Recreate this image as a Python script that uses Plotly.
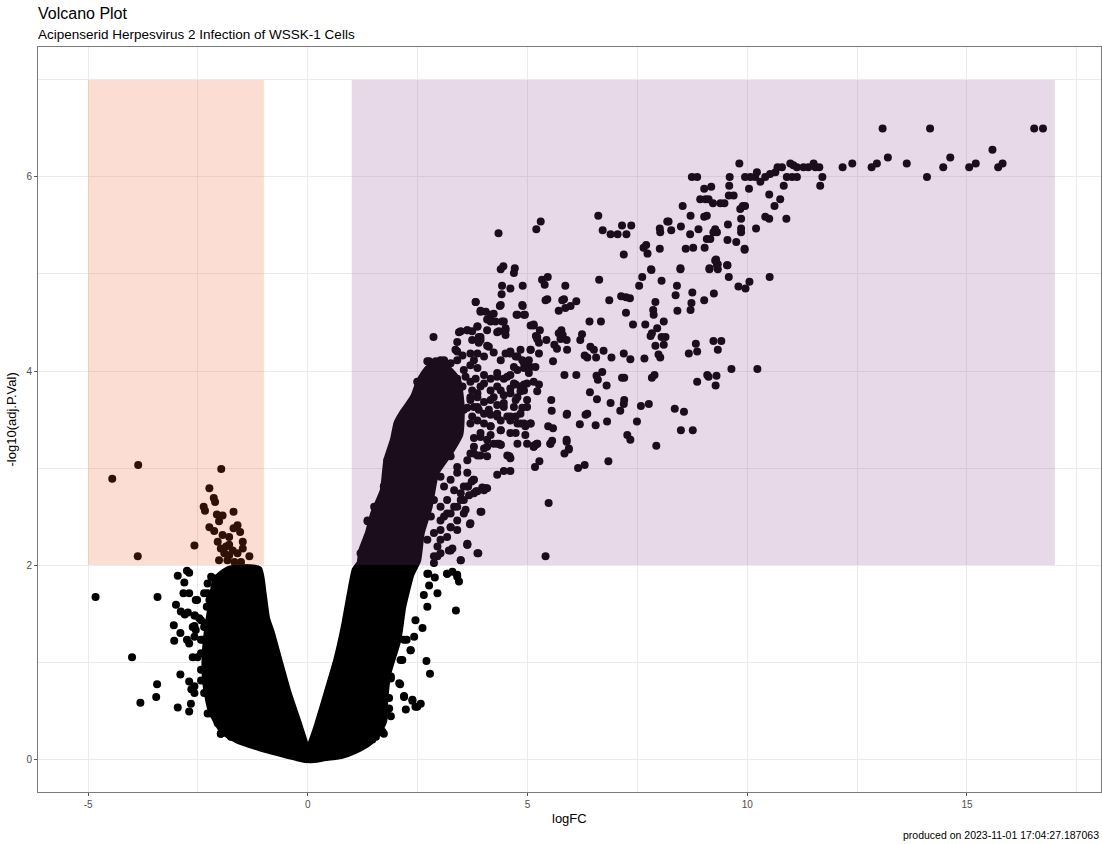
import plotly.graph_objects as go

# ---- dense, heavily over-plotted clusters (outline of the overlapping points) ----
left_core_x = [0.0, -0.20, -0.46, -0.67, -0.84, -0.95, -1.03, -1.12, -1.40, -1.80, -2.08, -2.18,
               -2.28, -2.33, -2.30, -2.20, -2.05, -1.90, -1.60, -1.15, -0.60, -0.25, 0.0]
left_core_y = [0.0, 0.33, 0.68, 1.02, 1.30, 1.45, 1.71, 1.95, 1.97, 1.95, 1.85, 1.60,
               1.30, 1.00, 0.75, 0.52, 0.38, 0.28, 0.20, 0.13, 0.06, 0.02, 0.0]

right_core_x = [0.0, 0.22, 0.45, 0.67, 0.84, 0.98, 1.09, 1.20, 1.24, 1.39, 1.51, 1.73, 1.81, 1.96,
                2.04, 2.19, 2.42, 2.55, 2.76, 3.10, 3.40, 3.48, 3.45, 3.20, 2.90, 2.75, 2.57,
                2.49, 2.34, 2.15, 2.04, 1.81, 1.73, 1.72, 1.60, 1.40, 1.10, 0.75, 0.40, 0.0]
right_core_y = [0.0, 0.33, 0.68, 1.02, 1.36, 1.71, 1.95, 2.02, 2.15, 2.33, 2.53, 2.77, 3.08, 3.29,
                3.46, 3.58, 3.73, 3.89, 4.03, 4.05, 3.90, 3.62, 3.35, 3.15, 2.95, 2.60, 2.33,
                2.05, 1.91, 1.57, 1.23, 0.88, 0.54, 0.40, 0.28, 0.18, 0.10, 0.04, 0.02, 0.0]

# ---- up-regulated genes (logFC > 1, adj.P < 0.01) ----
up_x = [13.08, 14.16, 16.53, 16.73, 15.58, 13.20, 14.62, 12.39, 12.17, 12.83, 12.95, 13.63, 14.46, 14.09,
        15.05, 15.20, 15.71, 15.81,
        9.82, 10.98, 10.69, 10.79, 11.13, 11.28, 11.39, 11.51, 11.55, 11.64, 11.05, 10.64, 10.52, 10.41,
        10.30, 9.95, 10.07, 10.18, 10.22, 10.90, 11.02, 11.13, 11.71, 11.66, 10.83, 10.04, 10.50, 10.75,
        10.62, 10.89, 10.41, 10.50, 10.20, 9.86, 9.86, 9.86, 9.94, 9.75, 9.55, 9.56, 9.90, 9.95, 9.84,
        9.60, 9.59, 9.58, 9.69, 8.74, 8.86, 9.02, 9.18, 8.93, 9.05, 9.12, 9.22, 9.39, 9.48, 8.53, 8.71,
        9.02, 9.08, 8.18, 8.21, 8.01, 8.02, 8.27, 8.49, 8.89, 8.70, 9.23, 9.31, 9.27, 9.08, 9.16, 9.03,
        8.60, 8.77, 8.01, 7.64, 7.70, 7.73, 7.19, 6.61, 6.71, 6.89, 7.05, 7.25, 7.15, 7.36, 9.27, 9.31,
        9.54, 9.14, 8.48, 7.81,
        4.34, 5.30, 5.20,
        7.82, 7.61, 7.54, 8.05, 8.48, 8.40, 8.37, 8.41, 8.75, 8.73, 8.71, 9.14, 9.29, 9.33, 9.33, 9.55,
        9.58, 9.80, 9.96, 10.05, 10.51, 9.94, 9.02, 9.24, 8.83, 8.86, 8.67, 9.23, 9.41, 9.33, 9.64, 10.23,
        9.09, 9.12, 9.30, 9.28, 8.86, 8.35, 8.56, 8.49, 8.76, 7.93, 7.27, 7.34, 7.49, 7.58, 7.76, 7.11,
        7.20, 7.19, 6.89, 6.81, 6.55, 6.19, 5.89, 5.90, 6.32, 6.36, 6.58, 6.42, 6.80, 5.89, 5.94, 5.56,
        5.52, 5.18, 5.14, 5.47, 5.58, 5.55, 5.54, 6.60, 6.70, 6.57, 7.15, 7.20, 7.83, 7.89, 6.11, 5.84,
        7.19, 7.34, 7.66, 6.91, 6.73, 7.40, 7.68, 8.10, 7.95, 7.80, 7.83, 8.05, 8.14, 7.91, 8.10, 7.98,
        8.02, 7.87, 7.86, 7.91, 7.24, 6.86, 7.13, 7.24, 7.33, 6.63, 6.41, 6.67, 6.30, 6.36, 6.56, 6.43,
        6.51, 6.24, 6.20, 6.11, 5.98, 5.86, 5.71, 5.79, 5.83, 5.41, 5.45, 5.33, 5.46, 5.39, 5.86, 5.89,
        5.75, 5.90, 5.67, 5.61, 5.58, 5.43, 5.22, 5.26, 5.77, 5.71, 5.80, 5.07, 5.14, 5.28, 5.19, 4.89,
        4.61, 4.42, 4.39, 4.45, 4.71, 4.69, 4.41, 4.37, 4.89, 4.75, 4.94, 3.93, 3.82, 2.86,
        6.84, 6.15, 6.30, 5.17, 5.27, 5.14, 5.22, 5.48, 5.41, 5.84, 5.94, 5.89, 5.52, 4.59, 4.46, 4.61,
        4.31, 3.95, 3.69, 3.88, 3.63, 3.48, 3.29, 3.21, 4.08, 3.97, 3.83, 3.77, 3.73, 3.65, 4.35, 4.39,
        3.82, 3.93, 4.39, 4.77, 4.92, 4.88, 2.04, 2.11, 1.96, 1.85, 1.73, 1.55, 1.36, 1.28]
up_y = [6.50, 6.50, 6.50, 6.50, 6.28, 6.20, 6.20, 6.14, 6.10, 6.10, 6.14, 6.14, 6.10, 6.00,
        6.10, 6.14, 6.10, 6.14,
        6.14, 6.14, 6.10, 6.10, 6.10, 6.10, 6.10, 6.14, 6.10, 6.10, 6.12, 6.05, 6.03, 6.00,
        5.95, 6.00, 6.00, 6.00, 6.05, 6.00, 6.00, 6.00, 6.00, 5.91, 5.91, 5.88, 5.82, 5.77,
        5.70, 5.57, 5.59, 5.57, 5.47, 5.57, 5.47, 5.43, 5.26, 5.33, 5.35, 5.51, 5.70, 5.70, 5.67,
        6.00, 5.91, 5.81, 5.81, 6.00, 6.00, 5.88, 5.90, 5.77, 5.77, 5.77, 5.73, 5.73, 5.73, 5.70, 5.60,
        5.59, 5.60, 5.54, 5.54, 5.47, 5.43, 5.45, 5.49, 5.46, 5.41, 5.43, 5.43, 5.46, 5.36, 5.36, 5.27,
        5.26, 5.27, 5.26, 5.27, 5.30, 5.21, 5.20, 5.60, 5.45, 5.41, 5.41, 5.41, 5.50, 5.50, 5.14, 5.09,
        5.09, 5.06, 5.06, 5.05,
        5.42, 5.54, 5.46,
        5.04, 4.97, 4.88, 4.93, 5.05, 4.88, 4.78, 4.62, 4.81, 4.70, 4.63, 5.05, 5.15, 5.10, 5.05, 5.09,
        4.97, 4.87, 4.85, 4.92, 4.97, 5.25, 4.73, 4.80, 4.28, 4.20, 4.18, 4.31, 4.31, 4.22, 4.02, 4.02,
        3.96, 3.94, 3.95, 3.85, 3.89, 3.61, 3.58, 3.39, 3.39, 3.23, 3.34, 3.29, 3.48, 3.64, 3.66, 3.59,
        3.70, 3.66, 3.67, 3.48, 3.44, 3.45, 3.55, 3.56, 3.55, 3.56, 3.71, 3.78, 3.85, 3.29, 3.20, 3.28,
        3.25, 3.24, 3.22, 3.43, 3.41, 3.59, 3.70, 3.91, 3.99, 3.95, 3.93, 3.93, 3.93, 3.96, 3.96, 3.96,
        4.18, 4.12, 4.13, 4.14, 4.21, 4.48, 4.48, 4.51, 4.44, 4.36, 4.39, 4.35, 4.35, 4.26, 4.27, 4.17,
        4.14, 4.58, 4.63, 4.71, 4.60, 4.73, 4.77, 4.76, 4.75, 4.94, 4.51, 4.51, 4.16, 4.14, 4.14, 4.25,
        4.22, 4.38, 4.32, 4.72, 4.67, 4.65, 4.62, 4.73, 4.74, 4.73, 4.74, 4.94, 4.97, 4.89, 4.88, 4.32,
        4.33, 4.22, 4.23, 4.27, 4.10, 4.32, 4.33, 4.29, 4.42, 4.39, 4.37, 4.47, 4.48, 4.42, 4.36, 4.88,
        4.85, 4.88, 5.05, 5.08, 5.06, 5.01, 4.79, 4.67, 4.67, 4.58, 4.58, 4.62, 4.71, 4.35,
        3.07, 3.00, 3.03, 3.01, 3.07, 3.23, 3.25, 2.64, 2.09, 3.15, 3.19, 3.27, 3.25, 3.12, 2.97, 2.97,
        2.93, 2.55, 2.42, 2.12, 2.21, 2.05, 2.17, 2.15, 2.79, 2.80, 2.76, 2.88, 2.86, 2.81, 3.25, 3.24,
        4.71, 4.61, 4.68, 4.58, 4.58, 4.68, 3.44, 3.46, 3.22, 3.05, 2.81, 2.57, 2.45, 2.15]

# up-regulated genes in the crowded band next to the dense cluster
up_band_x = [3.44, 3.63, 3.86, 4.08, 4.31, 4.50, 4.16, 4.46, 3.40, 3.74, 3.93, 3.89, 4.08, 4.23, 4.50,
             3.40, 3.52, 3.70, 3.86, 4.01, 3.78, 3.40, 2.72, 2.91, 3.10, 2.95, 3.14, 3.70, 3.86,
             4.39, 4.50, 4.61, 4.73, 4.88, 4.99, 5.07, 5.14, 5.22, 5.26, 5.18,
             4.31, 4.46, 4.61, 4.77, 4.92, 5.03,
             2.53, 2.72, 2.87, 3.02, 3.21, 3.40, 3.59, 3.70, 3.82, 4.01, 4.16, 3.93, 3.74, 3.52, 3.33,
             3.14, 2.95, 2.80, 2.64, 2.45, 4.16, 4.31, 4.46, 4.61, 4.73, 4.92, 4.84, 4.73, 4.88, 4.99,
             5.14, 5.22, 5.26,
             3.70, 3.86, 4.01, 4.16, 4.31, 4.46, 4.31, 4.16, 4.01, 3.89, 3.78, 3.63, 3.74, 3.86, 4.01,
             4.16, 4.39, 4.54, 4.61, 4.73, 4.84, 4.95, 5.07, 4.73, 4.95, 4.39, 4.16, 3.93, 3.78, 4.08,
             4.31, 4.01, 4.39, 3.78, 3.70, 3.86, 4.08, 4.54, 5.22, 5.14, 4.61,
             3.02, 3.25, 3.40, 3.63, 3.78, 3.93, 4.08, 4.01, 3.78, 3.63, 3.48, 3.33, 3.17, 3.02, 3.25,
             3.40, 3.55, 3.70, 3.93, 3.63, 3.86, 3.25, 3.02, 2.95, 3.48, 2.87,
             2.87, 3.02, 3.17, 2.95, 3.25, 3.40, 3.10, 3.25, 3.02, 2.87, 3.17, 3.33, 3.10, 3.25, 3.40,
             3.02, 3.55, 2.80, 2.72, 2.87, 3.02,
             3.63, 3.40, 3.59, 3.55, 3.48, 3.67, 3.86, 4.05, 3.78, 3.63, 4.31, 4.54, 4.69, 4.84, 4.99,
             4.39, 4.61, 4.77, 4.92, 4.46, 4.69, 4.84, 4.99, 4.61, 4.77, 4.92, 5.07, 4.39, 4.61, 4.77,
             4.99, 4.23, 4.12, 4.31, 4.16, 3.93, 4.23, 3.70, 3.55, 3.86, 3.70, 3.40, 3.25, 3.10, 4.01,
             3.55, 3.25, 3.02, 3.86, 3.48, 3.63, 3.74, 3.89, 3.93, 3.86, 3.36, 4.12, 4.35, 4.27, 4.16,
             4.42, 4.50, 4.08, 4.05, 4.23, 4.77, 4.92, 5.07, 4.84, 5.07, 5.03, 4.61, 4.69,
             2.76, 2.95, 3.10, 2.49, 2.61, 2.45, 1.20, 1.36, 1.51, 1.73, 1.81, 2.23, 2.42]
up_band_y = [4.40, 4.42, 4.46, 4.42, 4.40, 4.44, 4.51, 4.51, 4.30, 4.32, 4.35, 4.29, 4.26, 4.19, 4.37,
             4.20, 4.16, 4.18, 4.18, 4.15, 4.11, 4.11, 4.10, 4.10, 4.11, 4.04, 4.01, 4.06, 4.03,
             4.11, 4.18, 4.20, 4.15, 4.11, 4.08, 4.22, 4.47, 4.35, 4.18, 4.04,
             3.98, 3.92, 3.96, 4.01, 4.03, 3.98,
             3.89, 3.84, 3.92, 3.96, 3.87, 3.92, 3.94, 3.89, 3.92, 3.96, 3.92, 3.84, 3.80, 3.84, 3.79,
             3.77, 3.79, 3.74, 3.77, 3.75, 3.80, 3.84, 3.75, 3.82, 3.86, 3.86, 3.79, 3.70, 3.62, 3.70,
             3.89, 3.79, 3.86,
             3.70, 3.73, 3.68, 3.70, 3.65, 3.63, 3.56, 3.55, 3.56, 3.60, 3.63, 3.62, 3.53, 3.49, 3.46,
             3.43, 3.49, 3.53, 3.49, 3.53, 3.46, 3.43, 3.46, 3.36, 3.34, 3.39, 3.34, 3.36, 3.31, 3.29,
             3.25, 3.20, 3.24, 3.22, 3.15, 3.13, 3.12, 3.13, 3.25, 3.22, 3.10,
             3.19, 3.12, 3.01, 3.08, 3.15, 3.13, 3.22, 2.77, 2.74, 2.81, 2.67, 2.60, 2.53, 2.46, 2.39,
             2.46, 2.53, 2.43, 2.55, 2.22, 2.12, 2.15, 2.26, 2.09, 2.05, 2.02,
             2.33, 2.36, 2.29, 2.19, 2.39, 2.36, 2.50, 2.53, 2.60, 2.67, 2.67, 2.77, 2.81, 2.88, 2.95,
             2.91, 2.81, 2.50, 2.26, 2.09, 2.12,
             2.21, 2.60, 2.57, 2.67, 2.74, 2.72, 2.76, 2.79, 2.88, 2.95, 3.94, 3.94, 3.87, 3.84, 3.87,
             3.80, 3.77, 3.73, 3.80, 3.67, 3.63, 3.56, 3.63, 3.53, 3.46, 3.46, 3.46, 3.39, 3.36, 3.25,
             3.25, 3.73, 3.60, 3.53, 3.43, 3.32, 3.25, 3.46, 3.60, 3.63, 3.73, 3.80, 3.94, 3.87, 3.87,
             4.01, 4.08, 4.11, 3.77, 4.41, 4.42, 4.41, 4.35, 4.32, 4.46, 4.22, 4.25, 4.41, 4.51, 4.58,
             4.51, 4.42, 4.53, 4.61, 4.59, 4.15, 4.08, 4.04, 4.22, 4.22, 4.11, 4.18, 4.04,
             4.10, 4.08, 4.10, 3.89, 3.91, 3.73, 2.12, 2.46, 2.60, 2.81, 3.08, 3.56, 3.73]

# ---- down-regulated genes (logFC < -1, adj.P < 0.01) ----
down_x = [-3.86, -4.45, -1.97, -3.87, -2.24, -2.14, -2.11, -2.37, -2.34, -2.07, -1.94, -2.02, -1.69,
          -2.24, -2.13, -1.60, -1.69, -1.54, -1.94, -1.79, -2.05, -1.48, -2.58, -1.98, -1.86, -1.79,
          -1.71, -1.90, -1.79, -1.60, -1.48, -1.33, -2.02, -1.83, -1.67, -1.52]
down_y = [3.03, 2.89, 2.99, 2.09, 2.79, 2.69, 2.65, 2.60, 2.56, 2.52, 2.51, 2.45, 2.55,
          2.39, 2.35, 2.41, 2.38, 2.34, 2.31, 2.29, 2.24, 2.24, 2.20, 2.17, 2.19, 2.21,
          2.15, 2.12, 2.10, 2.12, 2.17, 2.09, 2.05, 2.05, 2.03, 2.03]

# ---- remaining genes ----
other_x = [-4.83, -3.42, -4.00, -3.43, -3.45, -3.81, -2.96, -2.90, -2.70, -2.65, -2.58, -2.66, -2.70,
           -2.62, -2.96, -2.81, -2.75, -2.70, -2.83, -2.70, -2.52, -3.00, -2.89, -2.80, -2.73, -2.57,
           -2.47, -2.58, -3.05, -2.90, -3.04, -2.75, -2.70, -2.55, -2.58, -2.28, -2.24, -2.30, -2.20,
           -2.13, -2.02, -2.43, -2.36, -2.39, -2.43, -2.39, -2.43, -2.36, -2.24, -2.20, -2.05, -1.98,
           -2.55, -2.58, -2.62, -2.36, -2.28, -2.20, -2.32, -2.43, -2.51, -2.43, -2.58, -2.36, -2.20,
           -2.28, -2.05, -1.98, -1.75, -1.67, -2.13, -2.05, -1.94,
           3.37, 2.95, 2.74, 2.89, 3.17, 3.29, 3.40, 3.44, 2.76, 2.64, 2.72, 2.61, 2.45, 2.42, 2.25,
           2.34, 2.15, 2.70, 2.78, 2.10, 2.19, 2.38, 2.45, 2.57, 2.23, 1.85, 1.85, 1.73, 1.55, 1.89,
           1.89, 2.04, 2.19, 2.34, 2.11, 1.89, 2.08, 2.19, 2.38, 2.49, 1.81, 1.89, 1.70, 1.47, 1.28,
           1.13, 1.73, 2.72, 3.17, 3.40]
other_y = [1.67, 1.67, 1.05, 0.77, 0.64, 0.58, 0.53, 0.87, 0.80, 0.72, 0.68, 0.57, 0.49,
           1.05, 1.89, 1.82, 1.94, 1.92, 1.71, 1.71, 1.64, 1.59, 1.52, 1.49, 1.51, 1.48,
           1.45, 1.37, 1.38, 1.30, 1.22, 1.23, 1.19, 1.33, 1.26, 1.71, 1.64, 1.57, 1.88,
           1.86, 1.85, 1.43, 1.36, 1.23, 1.09, 0.92, 0.81, 0.68, 0.61, 0.47, 0.37, 0.26,
           1.64, 1.48, 1.36, 1.71, 1.81, 1.57, 1.40, 1.23, 1.05, 0.92, 0.75, 0.81, 0.61,
           0.47, 0.40, 0.26, 0.23, 0.33, 1.02, 1.19, 1.54,
           1.53, 1.71, 1.91, 1.87, 1.91, 1.93, 1.90, 1.83, 1.79, 1.69, 1.57, 1.35, 1.43, 1.26, 1.23,
           1.12, 1.02, 1.01, 0.88, 0.77, 0.65, 0.60, 0.54, 0.57, 0.51, 0.63, 0.52, 0.26, 0.23, 0.83,
           1.31, 1.43, 1.23, 1.12, 1.02, 0.85, 0.78, 0.64, 0.61, 0.54, 0.51, 0.44, 0.28, 0.20, 0.18,
           0.11, 0.71, 1.91, 1.91, 1.88]

x_ticks = [-5, 0, 5, 10, 15]
y_ticks = [0, 2, 4, 6]

POINT = "black"
SIZE = 8
FONT = "Liberation Sans, Arial, sans-serif"

fig = go.Figure()

for cx, cy in [(left_core_x, left_core_y), (right_core_x, right_core_y)]:
    fig.add_trace(go.Scatter(x=cx, y=cy, mode="lines", fill="toself", fillcolor=POINT,
                             line=dict(color=POINT, width=SIZE, shape="spline", smoothing=0.5),
                             hoverinfo="skip", showlegend=False))

for px_, py_ in [(other_x, other_y), (down_x, down_y), (up_x, up_y), (up_band_x, up_band_y)]:
    fig.add_trace(go.Scatter(x=px_, y=py_, mode="markers",
                             marker=dict(color=POINT, size=SIZE, line=dict(width=0)),
                             showlegend=False))

# translucent highlight boxes for the significance regions (drawn over the points)
fig.add_shape(type="rect", x0=-5, x1=-1, y0=2, y1=7, xref="x", yref="y", layer="above",
              fillcolor="rgba(235,85,35,0.2)", line=dict(width=0))
fig.add_shape(type="rect", x0=1, x1=17, y0=2, y1=7, xref="x", yref="y", layer="above",
              fillcolor="rgba(140,65,140,0.2)", line=dict(width=0))

axis_common = dict(showgrid=True, gridcolor="#ebebeb", gridwidth=1.1, zeroline=False,
                   ticks="outside", ticklen=3, tickwidth=1, tickcolor="#555555",
                   tickfont=dict(family=FONT, size=10, color="#4d4d4d"),
                   showline=True, mirror=True, linecolor="#7a7a7a", linewidth=1)

fig.update_xaxes(range=[-6.14, 18.05], tickvals=x_ticks, ticktext=[str(v) for v in x_ticks],
                 minor=dict(tickvals=[-2.5, 2.5, 7.5, 12.5, 17.5], showgrid=True,
                            gridcolor="#ebebeb", gridwidth=0.6, ticks=""),
                 **axis_common)
fig.update_yaxes(range=[-0.34, 7.34], tickvals=y_ticks, ticktext=[str(v) for v in y_ticks],
                 minor=dict(tickvals=[1, 3, 5, 7], showgrid=True, gridcolor="#ebebeb",
                            gridwidth=0.6, ticks=""),
                 **axis_common)

fig.update_layout(
    width=1102, height=844,
    margin=dict(l=38, r=1, t=47, b=52),
    paper_bgcolor="white", plot_bgcolor="white",
    font=dict(family=FONT, color="black"),
    annotations=[
        dict(text="Volcano Plot", xref="paper", yref="paper", x=0, y=1.0443, xshift=-2,
             xanchor="left", yanchor="middle", showarrow=False, font=dict(size=16, family=FONT)),
        dict(text="Acipenserid Herpesvirus 2 Infection of WSSK-1 Cells", xref="paper", yref="paper",
             x=0, y=1.0174, xshift=-2, xanchor="left", yanchor="middle", showarrow=False,
             font=dict(size=13.5, family=FONT)),
        dict(text="logFC", xref="paper", yref="paper", x=0.5, y=-0.0349, xanchor="center",
             yanchor="middle", showarrow=False, font=dict(size=13, family=FONT)),
        dict(text="-log10(adj.P.Val)", xref="paper", yref="paper", x=-0.0245, y=0.5,
             xanchor="center", yanchor="middle", textangle=-90, showarrow=False,
             font=dict(size=13, family=FONT)),
        dict(text="produced on 2023-11-01 17:04:27.187063", xref="paper", yref="paper",
             x=1.0, y=-0.0577, xanchor="right", yanchor="middle", showarrow=False,
             font=dict(size=10.5, family=FONT)),
    ],
)

fig.write_html("out.html")
